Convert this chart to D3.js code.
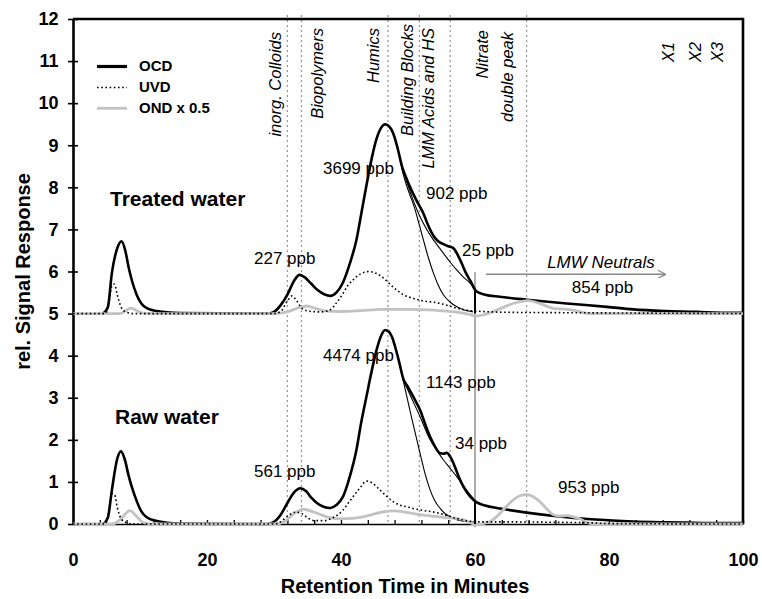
<!DOCTYPE html>
<html><head><meta charset="utf-8">
<script src="https://cdn.jsdelivr.net/npm/d3@7"></script>
<style>body{margin:0;background:#fff}svg{display:block}text{font-family:"Liberation Sans",Arial,Helvetica,sans-serif}</style>
</head><body><svg id="c" width="762" height="599"></svg>
<script>
// ---------- data (retention time in minutes, rel. signal response) ----------
const xTickLabels = [0, 20, 40, 60, 80, 100];
const xMinorTicks = d3.range(0, 101, 4);
const yTickLabels = [0,1,2,3,4,5,6,7,8,9,10,11,12];

const treatedOCD = [[4.5,5],[5.2,5.15],[5.8,5.96],[6.6,6.55],[7.25,6.72],[7.8,6.5],[8.3,6.1],[8.8,5.78],[9.5,5.45],[10.2,5.24],[11,5.13],[12.5,5.06],[14,5.03],[16,5.01],[29,5.0],[30,5.04],[31,5.2],[32,5.45],[33,5.78],[33.8,5.92],[34.6,5.86],[35.5,5.72],[36.5,5.56],[37.5,5.46],[38.4,5.42],[39.3,5.5],[40.3,5.74],[41.3,6.18],[42.3,6.75],[43,7.35],[43.8,8.05],[44.6,8.7],[45.3,9.15],[46,9.42],[46.6,9.5],[47.2,9.45],[47.8,9.28],[48.5,8.9],[49.1,8.5],[49.8,8.2],[50.5,7.94],[51.4,7.65],[52.3,7.38],[53,7.1],[53.8,6.85],[54.5,6.72],[55.3,6.65],[56,6.6],[56.8,6.55],[57.4,6.4],[58,6.2],[58.6,5.98],[59.3,5.78],[60.2,5.53],[61.5,5.45],[63.7,5.4],[67.7,5.33],[73.7,5.24],[79.7,5.16],[83.6,5.1],[88.6,5.06],[93,5.04],[98.5,5.02],[100,5.02]];
const treatedHumicsFit = [[46.6,9.5],[47.8,9.28],[48.5,8.9],[49.3,8.3],[50.1,7.9],[51,7.5],[51.7,7.1],[52.3,6.75],[53,6.35],[53.8,5.96],[54.5,5.68],[55.3,5.44],[56.3,5.27],[57.3,5.16],[58.5,5.08],[59.7,5.04]];
const treatedBBFit = [[49.1,8.5],[50.1,8.0],[51,7.6],[51.8,7.3],[52.8,7.0],[53.8,6.75],[54.6,6.58],[55.3,6.43],[56.3,6.22],[57.3,6.03],[58.3,5.86],[59.3,5.72],[60.2,5.53]];
const treatedUVD = [[0,5],[4.8,5],[5.3,5.2],[5.8,5.65],[6.2,5.7],[6.6,5.45],[7.2,5.15],[8,5.03],[9,5.0],[30,5],[31,5.05],[32,5.3],[32.7,5.42],[33.4,5.3],[34.2,5.12],[35.5,5.05],[37,5.04],[38.4,5.09],[39.3,5.25],[40.3,5.48],[41,5.66],[41.8,5.8],[43,5.95],[44.1,6.0],[45.2,5.96],[46.3,5.85],[47.3,5.7],[48.3,5.56],[49.3,5.45],[50.8,5.36],[52.3,5.3],[53.8,5.27],[55.3,5.22],[57,5.14],[58.8,5.08],[61.2,5.05],[65,5.03],[75,5.02],[100,5.0]];
const treatedOND = [[0,5],[7,5],[7.8,5.06],[8.6,5.13],[9.4,5.08],[10.5,5.01],[12,5],[30,5],[32,5.04],[33.5,5.13],[34.9,5.18],[36.3,5.12],[37.8,5.06],[40,5.05],[43,5.07],[46,5.1],[50,5.1],[54,5.08],[57,5.04],[59.2,4.98],[60.2,4.94],[61.5,4.98],[63.5,5.1],[65.7,5.24],[67.9,5.31],[70,5.22],[71.8,5.12],[73.8,5.1],[75.5,5.05],[77,5.0],[100,5.0]];

const rawOCD = [[4.5,0],[5.2,0.15],[5.8,0.8],[6.6,1.55],[7.15,1.73],[7.7,1.55],[8.3,1.15],[8.8,0.87],[9.5,0.55],[10.2,0.3],[11,0.16],[12.5,0.07],[14,0.03],[16,0.01],[29,0],[30,0.05],[31,0.22],[32,0.5],[33,0.75],[33.9,0.85],[34.8,0.78],[35.6,0.62],[36.4,0.5],[37.4,0.41],[38.4,0.38],[39.3,0.45],[40.3,0.65],[41.3,1.12],[42.3,1.76],[43,2.4],[43.8,3.03],[44.6,3.65],[45.3,4.13],[46,4.48],[46.6,4.61],[47.1,4.58],[47.6,4.45],[48.1,4.2],[48.6,3.9],[49.3,3.45],[50,3.25],[50.5,3.11],[51.2,2.9],[51.8,2.71],[52.5,2.4],[53.3,2.07],[54,1.85],[54.8,1.68],[55.3,1.67],[55.8,1.69],[56.3,1.6],[57,1.36],[57.5,1.15],[58,0.97],[58.6,0.8],[59.3,0.65],[60.2,0.52],[61.5,0.44],[63.7,0.37],[67.7,0.27],[73.7,0.16],[78.7,0.1],[83.6,0.06],[88.6,0.04],[98.6,0.02],[100,0.02]];
const rawHumicsFit = [[46.6,4.61],[47.6,4.45],[48.6,3.9],[49.3,3.4],[50.5,2.55],[51.8,1.68],[52.5,1.22],[53.3,0.81],[54,0.55],[54.8,0.37],[55.5,0.25],[56.3,0.17],[57.5,0.09],[59.3,0.05],[60,0.04]];
const rawBBFit = [[49.3,3.42],[50.5,3.0],[51.8,2.55],[53.3,2.0],[54.3,1.75],[55.3,1.52],[56.3,1.32],[57.3,1.12],[58.3,0.9],[59.3,0.69],[60.2,0.52]];
const rawUVD = [[0,0],[4.8,0],[5.3,0.25],[5.8,0.72],[6.2,0.7],[6.6,0.4],[7.2,0.12],[8,0.03],[9,0],[30,0],[31,0.05],[32,0.18],[33.2,0.28],[34,0.26],[35,0.15],[36,0.08],[37.5,0.08],[38.8,0.15],[40.3,0.33],[41.1,0.5],[41.8,0.65],[42.8,0.85],[43.8,1.02],[44.6,0.98],[45.8,0.81],[46.8,0.66],[47.8,0.53],[48.8,0.45],[49.8,0.41],[51,0.36],[52.3,0.32],[54.3,0.27],[55.8,0.2],[57.3,0.13],[59,0.07],[61,0.05],[65,0.05],[72,0.04],[77,0.03],[80,0.01],[100,0]];
const rawOND = [[0,0],[6,0],[7,0.1],[8.5,0.32],[9.5,0.18],[10.5,0.03],[12,0],[30,0],[31.5,0.05],[33,0.25],[34.4,0.35],[36,0.28],[37.9,0.17],[39.3,0.13],[41,0.13],[43.3,0.17],[45,0.24],[46.3,0.29],[48,0.31],[49.3,0.29],[51,0.24],[52.3,0.21],[55.3,0.16],[58.3,0.1],[59.5,0.02],[60.2,-0.02],[61,0],[62.5,0.08],[63.7,0.25],[64.7,0.42],[65.7,0.57],[66.7,0.67],[67.7,0.7],[68.7,0.65],[69.7,0.53],[70.7,0.36],[71.7,0.22],[72.7,0.19],[73.7,0.2],[74.7,0.17],[75.7,0.12],[77,0.02],[78,0],[100,0]];

const fractionBounds = [32.0, 34.1, 47.0, 51.7, 56.3, 67.7];
const cutTime = 60;
const cutSegments = [[5, 5.53], [0, 0.52]];
const legendItems = ["OCD", "UVD", "OND x 0.5"];

// ---------- setup ----------
const svg = d3.select("#c");
const x = d3.scaleLinear().domain([0, 100]).range([73, 743]);
const y = d3.scaleLinear().domain([0, 12]).range([524, 19]);
const FONT = '"Liberation Sans",Arial,sans-serif';
const line = d3.line().x(d => x(d[0])).y(d => y(d[1])).curve(d3.curveMonotoneX);

const styles = {
  OCD: {stroke: "#000", width: 2.6, dash: null},
  UVD: {stroke: "#000", width: 1.6, dash: "1.6,2.6"},
  OND: {stroke: "#c2c2c2", width: 2.8, dash: null},
  fit: {stroke: "#000", width: 1.1, dash: null}
};
function drawLine(data, st) {
  svg.append("path").datum(data).attr("d", line).attr("fill", "none")
    .attr("stroke", st.stroke).attr("stroke-width", st.width)
    .attr("stroke-dasharray", st.dash).attr("stroke-linejoin", "round");
}

// fraction boundaries (dotted gray)
svg.append("g").selectAll("line").data(fractionBounds).join("line")
  .attr("x1", d => x(d)).attr("x2", d => x(d)).attr("y1", 15).attr("y2", y(0))
  .attr("stroke", "#999").attr("stroke-width", 1.3).attr("stroke-dasharray", "2,3");

// cut line at 60 min (gray)
svg.append("line").attr("x1", x(cutTime)).attr("x2", x(cutTime))
  .attr("y1", y(5.98)).attr("y2", y(-0.08)).attr("stroke", "#999").attr("stroke-width", 1.6);

// axes
const yAxisOut = d3.axisLeft(y).tickValues(yTickLabels).tickSizeInner(5).tickSizeOuter(0).tickPadding(9.5).tickFormat(d3.format("d"));
const gy = svg.append("g").attr("transform", `translate(${x(0)},0)`).call(yAxisOut);
gy.selectAll("text").attr("font-family", FONT).attr("font-size", 18).attr("font-weight", "bold").attr("fill", "#000");
gy.select(".domain").attr("stroke-width", 2.6);
gy.selectAll(".tick line").attr("stroke-width", 1.6);
const gyIn = svg.append("g").attr("transform", `translate(${x(0)},0)`)
  .call(d3.axisLeft(y).tickValues(yTickLabels).tickSize(-5).tickFormat(""));
gyIn.select(".domain").remove();
gyIn.selectAll(".tick line").attr("stroke-width", 1.6);

const gx = svg.append("g").attr("transform", `translate(0,${y(0)})`)
  .call(d3.axisBottom(x).tickValues(xTickLabels).tickSize(0).tickPadding(29).tickFormat(d3.format("d")));
gx.selectAll("text").attr("font-family", FONT).attr("font-size", 18).attr("font-weight", "bold").attr("fill", "#000");
gx.select(".domain").attr("stroke-width", 1.5);
const gxm = svg.append("g").attr("transform", `translate(0,${y(0)})`)
  .call(d3.axisBottom(x).tickValues(xMinorTicks).tickSize(-4).tickFormat(""));
gxm.select(".domain").remove();
gxm.selectAll(".tick line").attr("stroke-width", 1.3);

// frame (top and right)
svg.append("path").attr("d", `M${x(0)},${y(12)}H${x(100)}V${y(0)}`)
  .attr("fill", "none").attr("stroke", "#000").attr("stroke-width", 2.6);

// curves
drawLine(treatedOCD, styles.OCD);
drawLine(rawOCD, styles.OCD);
drawLine(treatedHumicsFit, styles.fit);
drawLine(treatedBBFit, styles.fit);
drawLine(rawHumicsFit, styles.fit);
drawLine(rawBBFit, styles.fit);
drawLine(treatedOND, styles.OND);
drawLine(rawOND, styles.OND);
drawLine(treatedUVD, styles.UVD);
drawLine(rawUVD, styles.UVD);

// integration cut segments (black)
svg.append("g").selectAll("line").data(cutSegments).join("line")
  .attr("x1", x(cutTime)).attr("x2", x(cutTime))
  .attr("y1", d => y(d[0])).attr("y2", d => y(d[1]))
  .attr("stroke", "#000").attr("stroke-width", 2);

// arrow LMW neutrals
const defs = svg.append("defs");
defs.append("marker").attr("id", "ah").attr("viewBox", "0 0 10 10").attr("refX", 9).attr("refY", 5)
  .attr("markerWidth", 9).attr("markerHeight", 8).attr("markerUnits", "userSpaceOnUse").attr("orient", "auto")
  .append("path").attr("d", "M0,0L10,5L0,10").attr("fill", "none").attr("stroke", "#888").attr("stroke-width", 1.6);
svg.append("line").attr("x1", 486).attr("x2", 665).attr("y1", 274.3).attr("y2", 274.3)
  .attr("stroke", "#888").attr("stroke-width", 1.6).attr("marker-end", "url(#ah)");

// texts
function txt(s, px, py, opt = {}) {
  return svg.append("text").text(s).attr("x", px).attr("y", py)
    .attr("dy", opt.dy ?? "0.35em")
    .attr("font-family", FONT).attr("font-size", opt.size ?? 17)
    .attr("font-weight", opt.bold ? "bold" : "normal")
    .attr("font-style", opt.italic ? "italic" : "normal")
    .attr("text-anchor", opt.anchor ?? "start").attr("fill", "#000");
}
txt("Treated water", 110, 199, {bold: true, size: 21});
txt("Raw water", 115, 417, {bold: true, size: 21});
const ppb = [["227 ppb", 254, 258.5], ["3699 ppb", 323, 168.5], ["902 ppb", 426, 193.5], ["25 ppb", 462, 250],
  ["561 ppb", 254, 471], ["4474 ppb", 323, 355], ["1143 ppb", 426, 382], ["34 ppb", 455, 443], ["953 ppb", 558, 487]];
ppb.forEach(d => txt(d[0], d[1], d[2], {size: 17}));
txt("LMW Neutrals", 601, 262, {italic: true, size: 17, anchor: "middle"});
txt("854 ppb", 602.5, 287, {size: 17, anchor: "middle"});

// rotated fraction labels
function vtxt(s, xc, ytop, size = 16.5) {
  svg.append("text").text(s).attr("transform", `translate(${xc},${ytop}) rotate(-90)`)
    .attr("dy", "0.36em").attr("text-anchor", "end").attr("font-family", FONT)
    .attr("font-size", size).attr("font-style", "italic").attr("fill", "#000");
}
vtxt("inorg.  Colloids", 275, 32);
vtxt("Biopolymers", 317, 28);
vtxt("Humics", 373, 28);
vtxt("Building Blocks", 407, 24);
vtxt("LMM Acids and HS", 428, 28);
vtxt("Nitrate", 482, 30);
vtxt("double peak", 507, 32);
vtxt("X1", 668, 42);
vtxt("X2", 695, 42);
vtxt("X3", 717, 42);

// axis titles
svg.append("text").text("rel. Signal Response").attr("transform", `translate(30,${(y(0)+y(12))/2}) rotate(-90)`)
  .attr("text-anchor", "middle").attr("font-family", FONT).attr("font-size", 20).attr("font-weight", "bold");
svg.append("text").text("Retention Time in Minutes").attr("x", 405).attr("y", 593)
  .attr("text-anchor", "middle").attr("font-family", FONT).attr("font-size", 20).attr("font-weight", "bold");

// legend
const legStyles = [styles.OCD, styles.UVD, styles.OND];
const legY = [66.5, 87.5, 108.3];
legendItems.forEach((name, i) => {
  const st = legStyles[i];
  svg.append("line").attr("x1", 97).attr("x2", 127).attr("y1", legY[i]).attr("y2", legY[i])
    .attr("stroke", st.stroke).attr("stroke-width", i === 0 ? 3.2 : st.width).attr("stroke-dasharray", st.dash);
  txt(name, 139, legY[i] - 1, {bold: true, size: 15});
});
</script></body></html>
